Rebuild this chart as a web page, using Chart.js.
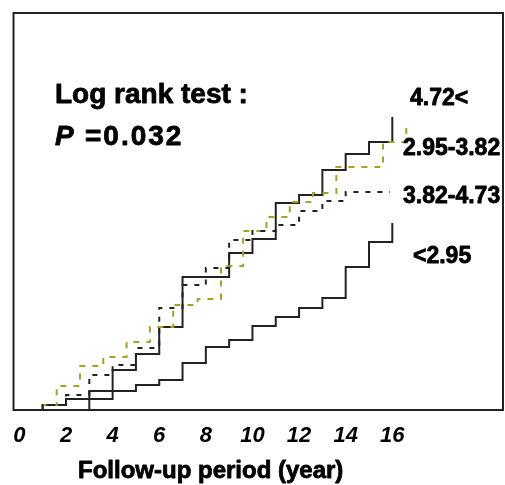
<!DOCTYPE html>
<html>
<head>
<meta charset="utf-8">
<script src="https://cdn.jsdelivr.net/npm/chart.js@4.4.1/dist/chart.umd.min.js"></script>
<style>
  body { margin: 0; background: #fff; }
  canvas { display: block; }
</style>
</head>
<body>
<canvas id="grafico" width="505" height="485"></canvas>
<script>
/// datos ///

// 4.72<  (linea continua de arriba)
const tiempoAlto = [0, 1, 2, 4, 5, 6, 7, 9, 10, 11, 12, 13, 14, 15, 16];
const valoresAlto = [0, 0.5, 1.1, 4.0, 5.6, 8.3, 13.3, 15.7, 17.1, 20.7, 21.5, 24.0, 25.6, 26.8, 29.3];

// 2.95-3.82  (discontinua oliva)
const tiempoOliva = [0, 1, 1.6, 2.6, 3.6, 4.6, 5.6, 6.6, 7.65, 8.65, 9.6, 10.6, 11.6, 12.6, 13.6, 15.6, 16.6];
const valoresOliva = [0, 0.5, 2.4, 4.4, 5.3, 6.8, 8.3, 10.5, 11.1, 14.4, 17.9, 19.3, 20.8, 21.7, 24.3, 26.8, 28.5];

// 3.82-4.73  (discontinua negra)
const tiempoMedio = [0, 1, 2, 3, 4, 5, 6, 7, 8, 9, 10, 11, 12, 13, 14, 15.9];
const valoresMedio = [0, 0.5, 1.5, 3.5, 4.5, 6.2, 10.2, 12.5, 14.2, 17.0, 17.9, 18.5, 19.9, 20.9, 21.8, 21.8];

// <2.95  (linea continua de abajo)
const tiempoBajo = [0, 3, 5, 6, 7, 8, 9, 10, 11, 12, 13, 14, 15, 16];
const valoresBajo = [0, 1.9, 2.5, 3.0, 4.7, 6.3, 7.0, 8.4, 9.3, 10.2, 11.2, 14.3, 16.8, 18.7];

const grupos = ["4.72<", "2.95-3.82", "3.82-4.73", "<2.95"];
const marcasX = [0, 2, 4, 6, 8, 10, 12, 14, 16];
const tituloX = "Follow-up period (year)";
const textoTest = "Log rank test :";
const textoP = "=0.032";

//////////////

function puntos(tiempos, valores) {
    return tiempos.map((t, i) => ({ x: t, y: valores[i] }));
}

function serie(nombre, tiempos, valores, color, dash) {
    return {
        label: nombre,
        data: puntos(tiempos, valores),
        borderColor: color,
        borderWidth: 2,
        borderDash: dash,
        stepped: "before",
        pointRadius: 0,
        fill: false
    };
}

// texto un poco mas grueso, como la fuente del original
function escribir(ctx, texto, x, y) {
    ctx.fillText(texto, x, y);
    ctx.strokeText(texto, x, y);
}

// caja, etiquetas de grupos y textos
const textos = {
    id: "textos",
    afterDatasetsDraw(chart) {
        const ctx = chart.ctx;
        const a = chart.chartArea;
        ctx.save();
        ctx.strokeStyle = "#222";
        ctx.lineWidth = 2;
        ctx.strokeRect(a.left, a.top, a.right - a.left, a.bottom - a.top);

        ctx.fillStyle = "#000";
        ctx.strokeStyle = "#000";
        ctx.lineWidth = 0.8;
        ctx.lineJoin = "round";
        ctx.textAlign = "left";
        ctx.textBaseline = "alphabetic";

        ctx.font = "bold 28px 'Liberation Sans', sans-serif";
        escribir(ctx, textoTest, 55, 103);
        ctx.font = "bold italic 28px 'Liberation Sans', sans-serif";
        escribir(ctx, "P", 55, 145);
        ctx.font = "bold 28px 'Liberation Sans', sans-serif";
        ctx.letterSpacing = "2px";
        escribir(ctx, textoP, 85, 145);
        ctx.letterSpacing = "0px";

        ctx.font = "bold 23px 'Liberation Sans', sans-serif";
        escribir(ctx, grupos[0], 410, 105);
        escribir(ctx, grupos[1], 403, 155);
        escribir(ctx, grupos[2], 403, 203);
        escribir(ctx, grupos[3], 413, 263);

        ctx.font = "bold 24px 'Liberation Sans', sans-serif";
        escribir(ctx, tituloX, 78, 478);
        ctx.restore();
    }
};

const config = {
    type: "line",
    data: {
        datasets: [
            serie(grupos[3], tiempoBajo, valoresBajo, "#222", []),
            serie(grupos[2], tiempoMedio, valoresMedio, "#222", [5, 7]),
            serie(grupos[1], tiempoOliva, valoresOliva, "#a3a321", [6, 7]),
            serie(grupos[0], tiempoAlto, valoresAlto, "#222", [])
        ]
    },
    options: {
        responsive: false,
        animation: false,
        layout: { padding: { left: 13.5, top: 13, right: 2, bottom: 22.6 } },
        plugins: {
            legend: { display: false },
            tooltip: { enabled: false }
        },
        scales: {
            x: {
                type: "linear",
                min: -0.253,
                max: 20.75,
                grid: { display: false, drawTicks: false },
                border: { display: false },
                afterBuildTicks: (scale) => {
                    scale.ticks = marcasX.map(v => ({ value: v }));
                },
                ticks: {
                    autoSkip: false,
                    maxRotation: 0,
                    padding: 13,
                    color: "#000",
                    font: { family: "'Liberation Sans', sans-serif", size: 22, weight: "bold", style: "italic" }
                }
            },
            y: {
                display: false,
                min: 0,
                max: 39.7
            }
        }
    },
    plugins: [textos]
};

new Chart(document.getElementById("grafico"), config);
</script>
</body>
</html>
